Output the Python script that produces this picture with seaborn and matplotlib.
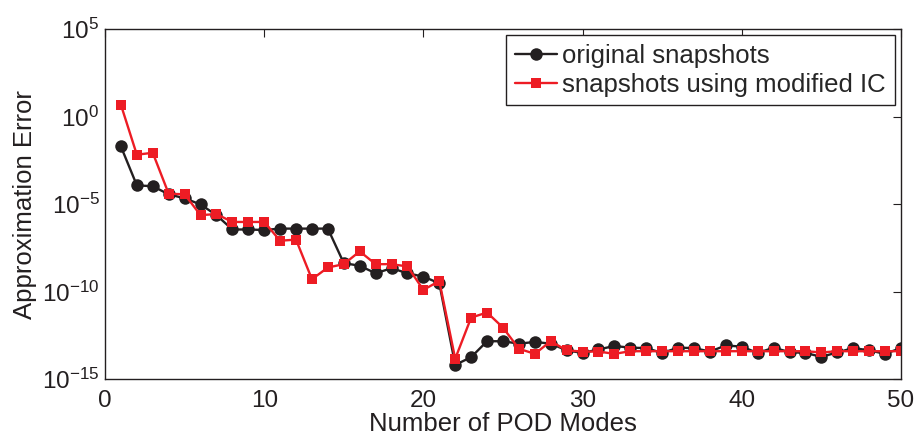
import numpy as np
import pandas as pd
import matplotlib
matplotlib.use("Agg")
import matplotlib.pyplot as plt
import seaborn as sns
from matplotlib.ticker import NullLocator, FixedLocator

# Approximation error versus number of POD modes (log10 of the error)
modes = list(range(1, 51))
log_err_original = [
    -1.71, -3.93, -3.98, -4.44, -4.67, -5.02, -5.63, -6.45, -6.45, -6.48,
    -6.40, -6.40, -6.40, -6.40, -8.37, -8.52, -8.95, -8.66, -8.95, -9.14,
    -9.52, -14.18, -13.74, -12.83, -12.83, -12.97, -12.87, -12.97, -13.35, -13.50,
    -13.30, -13.10, -13.20, -13.22, -13.50, -13.20, -13.22, -13.42, -13.07, -13.14,
    -13.50, -13.20, -13.45, -13.50, -13.72, -13.47, -13.22, -13.35, -13.55, -13.22,
]
log_err_modified = [
    0.67, -2.18, -2.07, -4.41, -4.44, -5.63, -5.57, -6.02, -6.02, -6.02,
    -7.09, -7.03, -9.29, -8.62, -8.43, -7.70, -8.43, -8.43, -8.56, -9.90,
    -9.39, -13.83, -11.48, -11.19, -12.05, -13.26, -13.55, -12.83, -13.35, -13.42,
    -13.42, -13.55, -13.40, -13.40, -13.40, -13.40, -13.40, -13.40, -13.40, -13.40,
    -13.40, -13.40, -13.40, -13.40, -13.47, -13.40, -13.40, -13.40, -13.40, -13.40,
]
labels = ["original snapshots", "snapshots using modified IC"]
x_ticks = [0, 10, 20, 30, 40, 50]
y_ticks = [1e-15, 1e-10, 1e-5, 1e0, 1e5]
y_tick_labels = [r"$10^{-15}$", r"$10^{-10}$", r"$10^{-5}$", r"$10^{0}$", r"$10^{5}$"]

df = pd.DataFrame({
    "modes": modes * 2,
    "error": list(10.0 ** np.array(log_err_original)) + list(10.0 ** np.array(log_err_modified)),
    "series": [labels[0]] * 50 + [labels[1]] * 50,
})

sns.set_style("white")
plt.rcParams["font.family"] = ["Liberation Sans", "DejaVu Sans"]
plt.rcParams["mathtext.fontset"] = "custom"
plt.rcParams["mathtext.rm"] = "Liberation Sans"
plt.rcParams["mathtext.default"] = "regular"

fig = plt.figure(figsize=(9.17, 4.42), dpi=100)
ax = fig.add_axes([0.1145, 0.142, 0.868, 0.7925])

black = "#231f20"
red = "#ed1c24"
fs = 18.5
tick_fs = 17.5

sns.lineplot(data=df[df.series == labels[0]], x="modes", y="error", ax=ax,
             color=black, marker="o", markersize=9, markeredgewidth=0,
             linewidth=1.7, label=labels[0])
sns.lineplot(data=df[df.series == labels[1]], x="modes", y="error", ax=ax,
             color=red, marker="s", markersize=7.7, markeredgewidth=0,
             linewidth=1.7, label=labels[1])

ax.set_yscale("log")
ax.set_xlim(0, 50)
ax.set_ylim(1e-15, 1e5)
ax.xaxis.set_major_locator(FixedLocator(x_ticks))
ax.yaxis.set_major_locator(FixedLocator(y_ticks))
ax.yaxis.set_minor_locator(NullLocator())
ax.set_yticklabels(y_tick_labels)

ax.tick_params(axis="both", which="major", direction="in", length=6, width=0.8,
               top=True, right=True, labelsize=tick_fs, colors=black)
ax.tick_params(axis="x", pad=8)
ax.tick_params(axis="y", pad=4)
for s in ax.spines.values():
    s.set_visible(True)
    s.set_color(black)
    s.set_linewidth(1.0)

ax.set_xlabel("Number of POD Modes", fontsize=fs, color=black)
ax.xaxis.set_label_coords(0.5, -0.094)
ax.set_ylabel("Approximation Error", fontsize=fs, color=black)
ax.yaxis.set_label_coords(-0.086, 0.5)

leg = ax.legend(loc="upper right", fontsize=fs, frameon=True, fancybox=False,
                edgecolor=black, framealpha=1, borderpad=0.33, labelspacing=0.2,
                handlelength=1.65, handletextpad=0.2, borderaxespad=0.25)
leg.get_frame().set_linewidth(1.0)

fig.savefig("out.png", dpi=100)
